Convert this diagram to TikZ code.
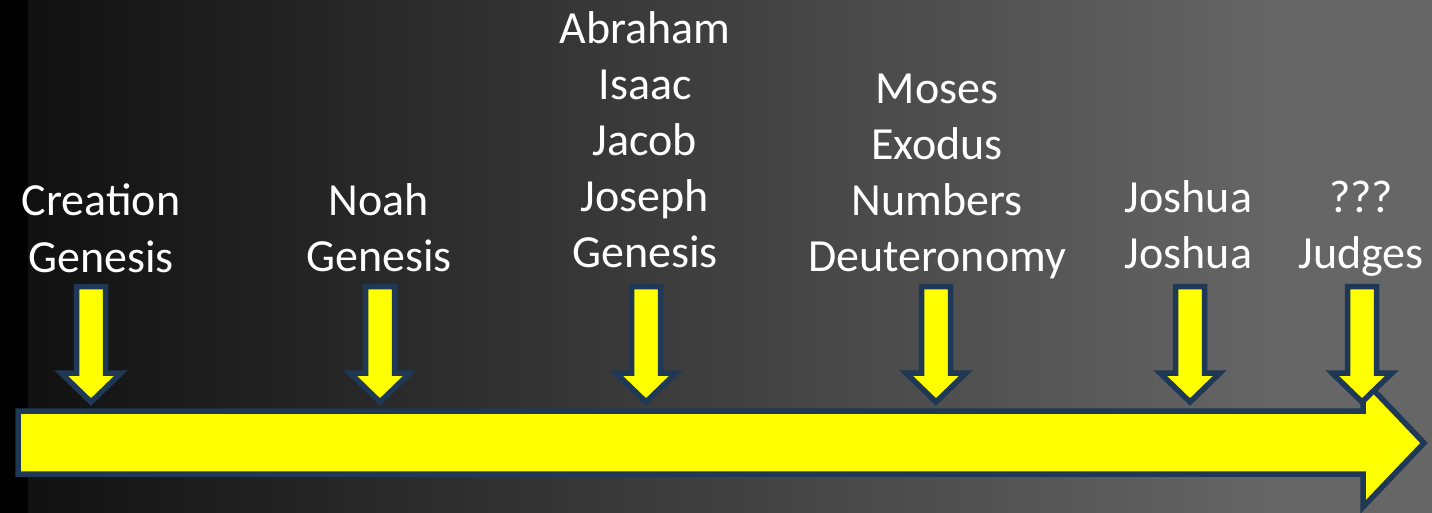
\documentclass[tikz,border=0pt]{standalone}
\usepackage{fontspec}
\setmainfont{Carlito}
\definecolor{navy}{RGB}{31,56,86}
\definecolor{bgL}{RGB}{17,17,17}
\definecolor{bgR}{RGB}{102,102,102}
\definecolor{ylw}{RGB}{255,255,0}
\tikzset{
  lbl/.style={text=white, font=\fontsize{46}{56}\selectfont, align=center, inner sep=0pt, anchor=base},
  yarrow/.style={fill=ylw, draw=navy, line width=5.5pt, line join=miter, miter limit=10},
  downarrow/.pic={\path[yarrow] (-14.5,286.5) -- (14.5,286.5) -- (14.5,373) -- (30,373) -- (0,402) -- (-30,373) -- (-14.5,373) -- cycle;}
}
\begin{document}
\begin{tikzpicture}[x=1pt,y=-1pt]
\useasboundingbox (0,0) rectangle (1432,513);
% background
\fill[black] (0,0) rectangle (28,513);
\shade[left color=bgL, right color=bgR] (28,0) rectangle (1280,513);
\fill[bgR] (1280,0) rectangle (1432,513);
% timeline arrow
\path[yarrow] (18,411) -- (1363,411) -- (1363,379) -- (1424,443) -- (1363,507) -- (1363,474) -- (18,474) -- cycle;
% markers
\pic at (91,0) {downarrow};
\pic at (380,0) {downarrow};
\pic at (646,0) {downarrow};
\pic at (936,0) {downarrow};
\pic at (1190,0) {downarrow};
\pic at (1362,0) {downarrow};
% labels (base = baseline of last line)
\node[lbl] (creation) at (101,272) {Creation\\Genesis};
\node[lbl] (noah) at (379,271) {Noah\\Genesis};
\node[lbl] (abraham) at (645,267) {Abraham\\Isaac\\Jacob\\Joseph\\Genesis};
\node[lbl] (moses) at (937,271) {Moses\\Exodus\\Numbers\\Deuteronomy};
\node[lbl] (joshua) at (1188.5,269) {Joshua\\Joshua};
\node[lbl] (judges) at (1361,269) {???\\Judges};
\end{tikzpicture}
\end{document}
